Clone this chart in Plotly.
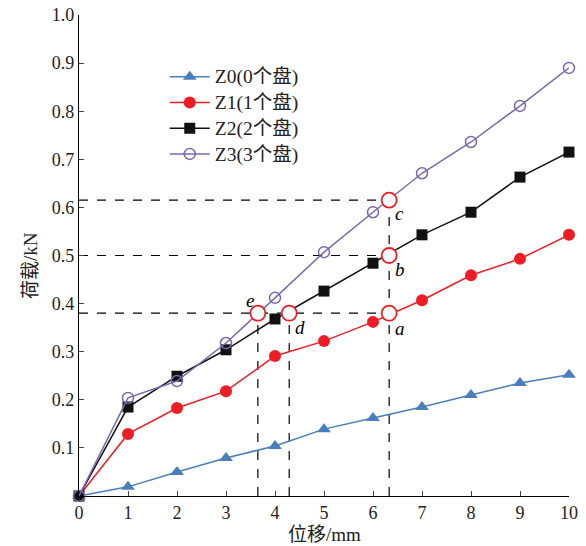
import plotly.graph_objects as go

disp = [0, 1, 2, 3, 4, 5, 6, 7, 8, 9, 10]
z0 = [0, 0.019, 0.050, 0.079, 0.104, 0.139, 0.162, 0.185, 0.210, 0.235, 0.252]
z1 = [0, 0.129, 0.183, 0.218, 0.291, 0.322, 0.362, 0.407, 0.459, 0.493, 0.543]
z2 = [0, 0.185, 0.249, 0.304, 0.368, 0.426, 0.484, 0.543, 0.590, 0.663, 0.715]
z3 = [0, 0.204, 0.239, 0.318, 0.412, 0.507, 0.590, 0.671, 0.736, 0.811, 0.890]

names = ["Z0(0个盘)", "Z1(1个盘)", "Z2(2个盘)", "Z3(3个盘)"]

# marked points a..e
pt_labels = ["a", "b", "c", "d", "e"]
pt_x = [6.33, 6.33, 6.33, 4.29, 3.65]
pt_y = [0.380, 0.500, 0.615, 0.380, 0.380]

xticks = [0, 1, 2, 3, 4, 5, 6, 7, 8, 9, 10]
yticks = [0.1, 0.2, 0.3, 0.4, 0.5, 0.6, 0.7, 0.8, 0.9, 1.0]
yticktext = ["0.1", "0.2", "0.3", "0.4", "0.5", "0.6", "0.7", "0.8", "0.9", "1.0"]

FONT = "'Liberation Serif', 'Times New Roman', 'Noto Sans CJK SC', serif"

fig = go.Figure()

# dashed guide lines
dash = dict(color="black", width=1.2, dash="dash")
for yv in sorted(set(pt_y)):
    xmax = max(x for x, y in zip(pt_x, pt_y) if y == yv)
    fig.add_trace(go.Scatter(x=[0, xmax], y=[yv, yv], mode="lines", line=dash,
                             showlegend=False, hoverinfo="skip"))
for xv in sorted(set(pt_x)):
    ymax = max(y for x, y in zip(pt_x, pt_y) if x == xv)
    fig.add_trace(go.Scatter(x=[xv, xv], y=[0, ymax], mode="lines", line=dash,
                             showlegend=False, hoverinfo="skip"))

styles = [
    dict(color="#4a7ebb", symbol="triangle-up", size=12, fill=True),
    dict(color="#ee1c24", symbol="circle", size=12, fill=True),
    dict(color="#111111", symbol="square", size=11, fill=True),
    dict(color="#7b68ae", symbol="circle-open", size=11, fill=False),
]
for ys, nm, st in zip([z0, z1, z2, z3], names, styles):
    marker = dict(symbol=st["symbol"], size=st["size"], color=st["color"])
    if not st["fill"]:
        marker["line"] = dict(color=st["color"], width=1.5)
    fig.add_trace(go.Scatter(x=disp, y=ys, mode="lines+markers",
                             name=f'<span style="font-size:19.5px">{nm}</span>',
                             line=dict(color=st["color"], width=1.5),
                             marker=marker, cliponaxis=False))

fig.add_trace(go.Scatter(x=pt_x, y=pt_y, mode="markers", showlegend=False,
                         marker=dict(symbol="circle", size=15, color="white",
                                     line=dict(color="#ee1c24", width=1.8)),
                         cliponaxis=False))

offsets = {"a": (0.22, -0.032), "b": (0.22, -0.03), "c": (0.22, -0.027),
           "d": (0.22, -0.03), "e": (-0.17, 0.027)}
for lab, x, y in zip(pt_labels, pt_x, pt_y):
    dx, dy = offsets[lab]
    fig.add_annotation(x=x + dx, y=y + dy, text=f"<i>{lab}</i>", showarrow=False,
                       font=dict(family=FONT, size=19, color="black"))

# axis titles
fig.add_annotation(xref="paper", yref="paper", x=0.5, y=-0.055, yanchor="top",
                   text="位移/mm", showarrow=False,
                   font=dict(family=FONT, size=19, color="#222222"))
fig.add_annotation(xref="paper", yref="paper", x=-0.1, y=0.478, xanchor="center",
                   text="荷载/kN", textangle=-90, showarrow=False,
                   font=dict(family=FONT, size=19, color="#222222"))

fig.update_layout(
    width=586, height=546,
    margin=dict(l=79, r=17, t=15, b=50, autoexpand=False),
    paper_bgcolor="white", plot_bgcolor="white",
    font=dict(family=FONT, size=16, color="#222222"),
    showlegend=True,
    legend=dict(x=0.175, y=0.909, xanchor="left", yanchor="top",
                bgcolor="rgba(0,0,0,0)", font=dict(family=FONT, size=17.5),
                tracegroupgap=0, itemwidth=40),
)
fig.update_xaxes(range=[0, 10], tickvals=xticks, ticks="inside", ticklen=5,
                 showline=True, linecolor="black", linewidth=1.2, showgrid=False,
                 zeroline=False, tickfont=dict(size=18), automargin=False)
fig.update_yaxes(range=[0, 1], tickvals=yticks, ticktext=yticktext, ticks="inside",
                 ticklen=5, showline=True, linecolor="black", linewidth=1.2,
                 showgrid=False, zeroline=False, tickfont=dict(size=18),
                 automargin=False)

fig.write_html("out.html")
